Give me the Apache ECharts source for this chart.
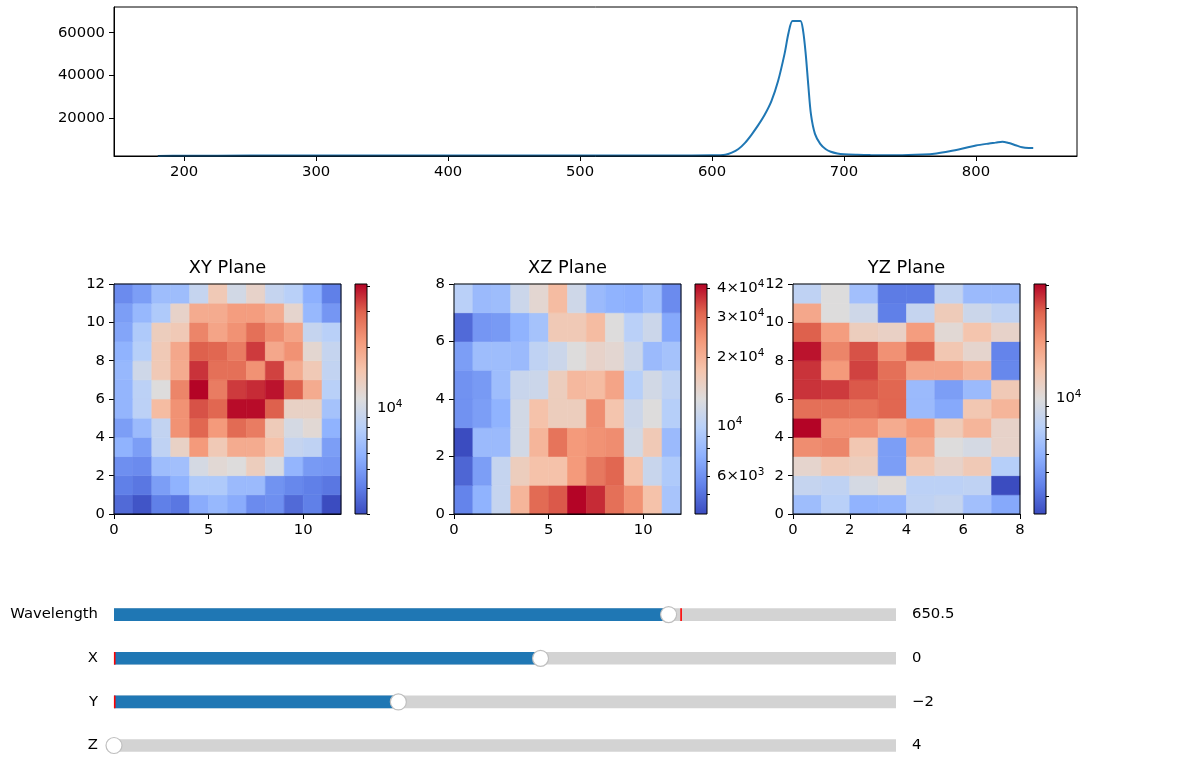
<!DOCTYPE html>
<html><head><meta charset="utf-8">
<script src="https://cdn.jsdelivr.net/npm/echarts@6/dist/echarts.min.js"></script>
<style>html,body{margin:0;padding:0;background:#fff}#c{width:1184px;height:777px}</style>
</head><body><div id="c"></div>
<script>
// ---------- spectrum ----------
const wavelengths = [180,200,250,300,350,400,450,500,550,580,600,610,615,620,625,630,635,640,645,650,655,658,661,664,667,669,671,673,675,678,682,686,690,695,700,710,720,740,760,770,780,790,800,810,815,820,825,830,835,840,843.4];
const intensity   = [2120,2250,2300,2300,2300,2300,2300,2320,2350,2380,2450,2750,3700,5400,8300,12200,16600,21600,27900,37200,50200,60000,65535,65535,65535,61000,50000,35000,21500,12500,7800,5400,4100,3300,2950,2700,2550,2450,2800,3300,4300,5600,7050,8000,8400,8850,8200,7200,6200,5900,5880];
const specXTicks = [200,300,400,500,600,700,800];
const specYTicks = [20000,40000,60000];

// ---------- planes (rows listed from index 0 = bottom) ----------
const xyValues = [
 [3600,3160,4100,3900,5620,6240,5620,4440,4560,3600,4100,3000],
 [4100,3900,5060,5920,7490,7490,6410,6410,4680,4330,4100,3900],
 [4560,4440,6580,6750,10250,11690,11090,13670,10530,6080,4930,4800],
 [5920,5060,8540,12970,21320,14400,18700,18700,15590,9000,8540,5060],
 [5060,6410,8770,22470,29180,21320,28430,25610,14030,10250,11690,5920],
 [6080,8320,16420,22470,31570,29180,39940,39940,29960,12970,12970,6930],
 [6080,8320,11090,24300,41000,25610,34150,35970,38920,29960,18700,8100],
 [6240,9730,14400,18700,35060,27700,27700,22470,33270,18700,14400,8770],
 [5920,7900,14400,19210,29960,29180,25610,34150,19210,22470,12000,9000],
 [5330,7490,13670,14400,24300,19720,22470,27700,23060,19720,9000,8100],
 [5060,6240,7490,12640,18700,18700,20770,20770,18700,12310,6240,4800],
 [4440,5060,6580,6580,9000,14400,9990,12640,9000,8100,5770,4100]
];
const xzValues = [
 [5540,7500,10870,19430,30190,32380,41800,37220,29500,24500,17700,8820],
 [4710,6520,10870,15760,17700,17700,23390,28170,30900,17700,11130,9240],
 [4100,8040,8040,11930,19430,28830,23390,24500,25080,11930,16510,8040],
 [6080,6520,7500,11930,17700,15760,15760,25080,17300,11390,13090,9680],
 [6080,6370,8230,11130,11390,15760,18980,18550,21820,9680,11930,10380],
 [6520,8230,8230,8040,10380,11390,13090,14700,14030,11390,8040,8620],
 [4830,6220,6370,7500,8620,16510,16510,18550,13090,9910,11390,6990],
 [9910,8040,8230,11390,14030,18550,11660,8040,7500,7330,8230,5810]
];
const yzValues = [
 [5610,7030,5010,5150,7440,7870,5770,4600],
 [7870,7440,9070,10150,7230,7230,7440,2400],
 [11050,13100,12380,4230,13470,11370,13100,6840],
 [21790,23060,13470,4230,17380,9870,9070,11370],
 [40600,21190,21190,17380,20020,12730,15970,11370],
 [26570,26570,25820,28100,5450,4600,13470,15970],
 [34270,33310,29740,28100,5450,4230,5450,13100],
 [34270,20020,32380,26570,18390,18390,15970,3570],
 [38380,23060,30600,21190,28920,13470,11050,3470],
 [28920,19460,12380,11700,19460,10440,13860,11370],
 [17880,9870,8570,3370,7870,12730,8330,7440],
 [7440,9870,5770,3280,3280,7650,5450,5450]
];
const planeTitles = ['XY Plane','XZ Plane','YZ Plane'];
const xyXTicks = [0,5,10], xyYTicks = [0,2,4,6,8,10,12];
const xzXTicks = [0,5,10], xzYTicks = [0,2,4,6,8];
const yzXTicks = [0,2,4,6,8], yzYTicks = [0,2,4,6,8,10,12];

// colorbar ticks
const cbarMajor = [10000];
const xyCbarLabels = [10000];
const xyCbarMinor = [3000,4000,5000,6000,7000,8000,9000,20000,30000,40000];
const xzCbarLabels = [6000,10000,20000,30000,40000];
const xzCbarMinor = [5000,6000,7000,8000,9000,20000,30000,40000];
const yzCbarLabels = [10000];
const yzCbarMinor = [3000,4000,5000,6000,7000,8000,9000,20000,30000,40000];

// ---------- sliders ----------
const sliderNames = ['Wavelength','X','Y','Z'];
const sliderMin   = [180,-6,-6,4];
const sliderMax   = [843.4,5,5,15];
const sliderValue = [650.5,0,-2,4];
const sliderInit  = [660.5,-6,-6,4];

// ---------- styling ----------
const FONT = 'DejaVu Sans';
const FS = 14.8;
const coolwarm = ['#3b4cc0','#6282ea','#8db0fe','#b8d0f9','#dddcdc','#f5c4ac','#f49a7b','#e0654f','#b40426'];
const txt = {color:'#000', fontSize:FS, fontFamily:FONT};
const blk = {color:'#000', width:1};

const chart = echarts.init(document.getElementById('c'), null, {renderer:'canvas'});

const grids = [], xAxes = [], yAxes = [], series = [], visualMaps = [], graphics = [];
function grid(g){ grids.push(Object.assign({containLabel:false, outerBoundsMode:'none'}, g)); return grids.length-1; }
const plain = v => String(Math.round(v*1000)/1000);

// top spectrum
const gTop = grid({left:114, top:7, width:963, height:149, show:true, borderColor:'#000', borderWidth:1, backgroundColor:'transparent', z:10});
const wMin = Math.min(...wavelengths), wMax = Math.max(...wavelengths), wPad = 0.05*(wMax-wMin);
xAxes.push({gridIndex:gTop, type:'value', min:wMin-wPad, max:wMax+wPad,
  axisLine:{show:true, lineStyle:blk}, axisTick:{show:true, length:5, lineStyle:blk, customValues:specXTicks},
  axisLabel:Object.assign({}, txt, {margin:9, customValues:specXTicks, formatter:plain}), splitLine:{show:false}});
yAxes.push({gridIndex:gTop, type:'value', min:Math.min(...intensity), max:1.1*Math.max(...intensity),
  axisLine:{show:true, lineStyle:blk}, axisTick:{show:true, length:5, lineStyle:blk, customValues:specYTicks},
  axisLabel:Object.assign({}, txt, {margin:9, customValues:specYTicks, formatter:plain}), splitLine:{show:false}});
series.push({type:'line', xAxisIndex:0, yAxisIndex:0, data:wavelengths.map((w,i)=>[w,intensity[i]]),
  showSymbol:false, smooth:0.3, lineStyle:{color:'#1f77b4', width:2}, z:3});

// planes
const planes = [
  {rows:xyValues, xT:xyXTicks, yT:xyYTicks, left:114, cb:355, labels:xyCbarLabels, minor:xyCbarMinor},
  {rows:xzValues, xT:xzXTicks, yT:xzYTicks, left:454, cb:695, labels:xzCbarLabels, minor:xzCbarMinor},
  {rows:yzValues, xT:yzXTicks, yT:yzYTicks, left:793, cb:1034, labels:yzCbarLabels, minor:yzCbarMinor}
];
const rich = {b:{fontSize:FS, fontFamily:FONT, color:'#000'}, s:{fontSize:10.5, fontFamily:FONT, color:'#000', padding:[0,0,8,0]}};
function logFmt(v){
  const e = Math.floor(v+1e-9); const m = Math.round(Math.pow(10, v-e));
  return m===1 ? '{b|10}{s|'+e+'}' : '{b|'+m+'×10}{s|'+e+'}';
}
planes.forEach((p,k)=>{
  const ny = p.rows.length, nx = p.rows[0].length;
  const flat = p.rows.flat(); const vmin = Math.min(...flat), vmax = Math.max(...flat);
  const L0 = Math.log10(vmin), L1 = Math.log10(vmax);
  const g = grid({left:p.left, top:284, width:227, height:230, show:true, borderColor:'#000', borderWidth:1, backgroundColor:'transparent', z:10});
  const xi = xAxes.length, yi = yAxes.length;
  xAxes.push({gridIndex:g, type:'value', min:0, max:nx, axisLine:{show:true, lineStyle:blk},
    axisTick:{show:true, length:5, lineStyle:blk, customValues:p.xT},
    axisLabel:Object.assign({}, txt, {margin:9, customValues:p.xT}), splitLine:{show:false}});
  yAxes.push({gridIndex:g, type:'value', min:0, max:ny, axisLine:{show:true, lineStyle:blk},
    axisTick:{show:true, length:5, lineStyle:blk, customValues:p.yT},
    axisLabel:Object.assign({}, txt, {margin:9, customValues:p.yT}), splitLine:{show:false}});
  const data = [];
  p.rows.forEach((row,j)=>row.forEach((v,i)=>data.push([i,j,v,Math.log10(v)])));
  series.push({type:'custom', xAxisIndex:xi, yAxisIndex:yi, dimensions:['x','y','v','lv'], encode:{x:0, y:1},
    data, renderItem:(params, api)=>{
      const x = api.value(0), y = api.value(1);
      const a = api.coord([x, y+1]), b = api.coord([x+1, y]);
      const c = api.visual('color');
      return {type:'rect', shape:{x:a[0], y:a[1], width:b[0]-a[0], height:b[1]-a[1]}, style:{fill:c, stroke:c, lineWidth:0.6}};
    }});
  visualMaps.push({type:'continuous', show:false, seriesIndex:series.length-1, dimension:3, min:L0, max:L1, inRange:{color:coolwarm}});
  // colorbar
  const gc = grid({left:p.cb, top:284, width:12, height:230, show:true, borderColor:'#000', borderWidth:1, backgroundColor:'transparent', z:10});
  const cxi = xAxes.length, cyi = yAxes.length;
  xAxes.push({gridIndex:gc, type:'value', min:0, max:1, show:false});
  yAxes.push({gridIndex:gc, type:'value', position:'right', min:L0, max:L1, axisLine:{show:false},
    axisTick:{show:true, length:5, lineStyle:blk, customValues:cbarMajor.map(Math.log10)},
    axisLabel:{show:true, margin:10, customValues:p.labels.map(Math.log10), formatter:logFmt, rich}, splitLine:{show:false}});
  yAxes.push({gridIndex:gc, type:'value', position:'right', min:L0, max:L1, axisLine:{show:false},
    axisTick:{show:true, length:3, lineStyle:blk, customValues:p.minor.map(Math.log10)},
    axisLabel:{show:false}, splitLine:{show:false}});
  series.push({type:'custom', xAxisIndex:cxi, yAxisIndex:cyi, encode:{x:[0,2], y:[1,3]}, data:[[0,L0,1,L1]],
    renderItem:(params, api)=>{
      const a = api.coord([api.value(0), api.value(3)]), b = api.coord([api.value(2), api.value(1)]);
      return {type:'rect', shape:{x:a[0], y:a[1], width:b[0]-a[0], height:b[1]-a[1]},
        style:{fill:new echarts.graphic.LinearGradient(0,1,0,0, coolwarm.map((c,i)=>({offset:i/(coolwarm.length-1), color:c})))}};
    }});
  graphics.push({type:'text', x:p.left+113.5, y:268, style:{text:planeTitles[k], fill:'#000', fontSize:17.8, fontFamily:FONT, align:'center', verticalAlign:'middle'}});
});

// sliders
const sliderCenters = [614.6, 658.3, 701.9, 745.5];
sliderNames.forEach((name,k)=>{
  const cy = sliderCenters[k];
  const g = grid({left:114, top:cy-12, width:782, height:24});
  const xi = xAxes.length, yi = yAxes.length;
  xAxes.push({gridIndex:g, type:'value', min:sliderMin[k], max:sliderMax[k], show:false});
  yAxes.push({gridIndex:g, type:'value', min:-1, max:1, show:false});
  const bar = (color)=>(params, api)=>{
    const a = api.coord([api.value(0),0]), b = api.coord([api.value(1),0]);
    return {type:'rect', shape:{x:a[0], y:a[1]-6.3, width:b[0]-a[0], height:12.6}, style:{fill:color}};
  };
  series.push({type:'custom', xAxisIndex:xi, yAxisIndex:yi, encode:{x:[0,1], y:2}, data:[[sliderMin[k], sliderMax[k], 0]], renderItem:bar('#d3d3d3'), z:2});
  series.push({type:'custom', xAxisIndex:xi, yAxisIndex:yi, encode:{x:[0,1], y:2}, data:[[sliderMin[k], sliderValue[k], 0]], renderItem:bar('#1f77b4'), z:3});
  series.push({type:'custom', xAxisIndex:xi, yAxisIndex:yi, encode:{x:[0,1], y:2}, data:[[sliderInit[k], sliderInit[k], 0]], z:4,
    renderItem:(params, api)=>{
      const a = api.coord([api.value(0),0]);
      return {type:'line', shape:{x1:a[0]+0.7, y1:a[1]-6.3, x2:a[0]+0.7, y2:a[1]+6.3}, style:{stroke:'#ff0000', lineWidth:1.6}};
    }});
  series.push({type:'scatter', xAxisIndex:xi, yAxisIndex:yi, data:[[sliderValue[k],0]], symbol:'circle', symbolSize:16,
    itemStyle:{color:'#ffffff', borderColor:'#bfbfbf', borderWidth:1.2, opacity:1}, z:5, silent:true});
  graphics.push({type:'text', x:98, y:cy, style:{text:name, fill:'#000', fontSize:FS, fontFamily:FONT, align:'right', verticalAlign:'middle'}});
  const v = sliderValue[k];
  graphics.push({type:'text', x:912, y:cy, style:{text:(v<0?'\u2212':'')+String(Math.abs(v)), fill:'#000', fontSize:FS, fontFamily:FONT, align:'left', verticalAlign:'middle'}});
});

chart.setOption({
  animation:false,
  backgroundColor:'#ffffff',
  textStyle:{fontFamily:FONT},
  grid:grids, xAxis:xAxes, yAxis:yAxes, series, visualMap:visualMaps, graphic:graphics
});
</script></body></html>
